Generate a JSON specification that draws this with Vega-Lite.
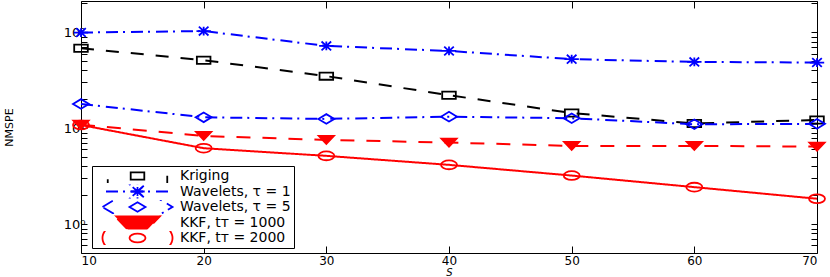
{
  "$schema": "https://vega.github.io/schema/vega-lite/v6.json",
  "width": 736,
  "height": 252,
  "autosize": "none",
  "padding": {"left": 81, "top": 1, "right": 13, "bottom": 24},
  "background": "white",
  "config": {
    "view": {"stroke": "black", "strokeWidth": 1},
    "font": "DejaVu Sans",
    "axis": {"domain": false, "grid": false, "tickColor": "black", "tickWidth": 1, "labelColor": "black", "labelFont": "DejaVu Sans", "labelFontSize": 12, "titleColor": "black", "titleFont": "DejaVu Sans", "titleFontWeight": "normal"}
  },
  "data": {"values": [
    {"s": 10, "series": "Kriging", "v": 68.2},
    {"s": 20, "series": "Kriging", "v": 51.2},
    {"s": 30, "series": "Kriging", "v": 34.9},
    {"s": 40, "series": "Kriging", "v": 22.1},
    {"s": 50, "series": "Kriging", "v": 14.4},
    {"s": 60, "series": "Kriging", "v": 11.2},
    {"s": 70, "series": "Kriging", "v": 12.2},
    {"s": 10, "series": "Wavelets, τ = 1", "v": 99.4},
    {"s": 20, "series": "Wavelets, τ = 1", "v": 103},
    {"s": 30, "series": "Wavelets, τ = 1", "v": 72.1},
    {"s": 40, "series": "Wavelets, τ = 1", "v": 63.9},
    {"s": 50, "series": "Wavelets, τ = 1", "v": 52.5},
    {"s": 60, "series": "Wavelets, τ = 1", "v": 49.1},
    {"s": 70, "series": "Wavelets, τ = 1", "v": 48.4},
    {"s": 10, "series": "Wavelets, τ = 5", "v": 17.9},
    {"s": 20, "series": "Wavelets, τ = 5", "v": 13.0},
    {"s": 30, "series": "Wavelets, τ = 5", "v": 12.5},
    {"s": 40, "series": "Wavelets, τ = 5", "v": 13.2},
    {"s": 50, "series": "Wavelets, τ = 5", "v": 12.7},
    {"s": 60, "series": "Wavelets, τ = 5", "v": 11.0},
    {"s": 70, "series": "Wavelets, τ = 5", "v": 11.1},
    {"s": 10, "series": "KKF, tᴛ = 1000", "v": 10.9},
    {"s": 20, "series": "KKF, tᴛ = 1000", "v": 8.3},
    {"s": 30, "series": "KKF, tᴛ = 1000", "v": 7.55},
    {"s": 40, "series": "KKF, tᴛ = 1000", "v": 7.08},
    {"s": 50, "series": "KKF, tᴛ = 1000", "v": 6.54},
    {"s": 60, "series": "KKF, tᴛ = 1000", "v": 6.54},
    {"s": 70, "series": "KKF, tᴛ = 1000", "v": 6.43},
    {"s": 10, "series": "KKF, tᴛ = 2000", "v": 10.8},
    {"s": 20, "series": "KKF, tᴛ = 2000", "v": 6.19},
    {"s": 30, "series": "KKF, tᴛ = 2000", "v": 5.15},
    {"s": 40, "series": "KKF, tᴛ = 2000", "v": 4.15},
    {"s": 50, "series": "KKF, tᴛ = 2000", "v": 3.21},
    {"s": 60, "series": "KKF, tᴛ = 2000", "v": 2.43},
    {"s": 70, "series": "KKF, tᴛ = 2000", "v": 1.84}
  ]},
  "layer": [
    {
      "mark": {"type": "line", "strokeWidth": 2, "clip": false},
      "encoding": {
        "x": {"field": "s", "type": "quantitative", "scale": {"domain": [10, 70], "nice": false, "zero": false},
              "axis": {"orient": "bottom", "values": [10, 20, 30, 40, 50, 60, 70], "tickSize": -7, "labelPadding": 9, "title": "S", "titleFontStyle": "italic", "titleFontSize": 10, "titleY": 22, "titleBaseline": "alphabetic"}},
        "y": {"field": "v", "type": "quantitative", "scale": {"type": "log", "domain": [0.5, 212], "nice": false},
              "axis": {"orient": "left", "values": [0.6, 0.7, 0.8, 0.9, 1, 2, 3, 4, 5, 6, 7, 8, 9, 10, 20, 30, 40, 50, 60, 70, 80, 90, 100, 200],
                       "tickSize": -6, "labelPadding": 2, "labelFontSize": 13,
                       "labelExpr": "datum.value == 1 ? '10⁰' : datum.value == 10 ? '10¹' : datum.value == 100 ? '10²' : ''",
                       "title": "NMSPE", "titleFontSize": 11, "titleX": -72, "titleY": 126, "titleBaseline": "middle", "titleAngle": -90}},
        "stroke": {"field": "series", "type": "nominal",
                   "scale": {"domain": ["Kriging", "Wavelets, τ = 1", "Wavelets, τ = 5", "KKF, tᴛ = 1000", "KKF, tᴛ = 2000"],
                             "range": ["#000000", "#0000ff", "#0000ff", "#ff0000", "#ff0000"]},
                   "legend": {
                     "orient": "none", "legendX": 11, "legendY": 165, "title": null,
                     "strokeColor": "black", "fillColor": "white", "padding": 3, "rowPadding": 1.5, "clipHeight": 14,
                     "symbolType": "stroke", "symbolSize": 4900, "symbolStrokeWidth": 1.8, "symbolOffset": 6.5, "labelOffset": 6.5,
                     "labelFontSize": 14, "labelFont": "DejaVu Sans", "labelColor": "black", "cornerRadius": 0,
                     "encode": {"symbols": {"update": {
                       "shape": {"value": "stroke"},
                       "fill": {"value": "transparent"},
                       "strokeDash": {"signal": "datum.value === 'Kriging' || datum.value === 'KKF, tᴛ = 1000' ? [15, 40] : datum.value === 'KKF, tᴛ = 2000' ? [1, 0] : [2, 6, 17, 16, 17, 6, 2, 10]"}
                     }}}
                   }},
        "strokeDash": {"field": "series", "type": "nominal",
                       "scale": {"domain": ["Kriging", "Wavelets, τ = 1", "Wavelets, τ = 5", "KKF, tᴛ = 1000", "KKF, tᴛ = 2000"],
                                 "range": [[13, 12], [12, 5, 2, 6], [12, 5, 2, 6], [14, 12], [1, 0]]},
                       "legend": null}
      }
    },
    {
      "mark": {"type": "point", "size": 256, "strokeWidth": 1.8, "opacity": 1, "filled": false, "clip": false},
      "encoding": {
        "x": {"field": "s", "type": "quantitative", "scale": {"domain": [10, 70], "nice": false, "zero": false},
              "axis": {"orient": "top", "values": [10, 20, 30, 40, 50, 60, 70], "tickSize": -7, "labels": false, "title": null}},
        "y": {"field": "v", "type": "quantitative", "scale": {"type": "log", "domain": [0.5, 212], "nice": false},
              "axis": {"orient": "right", "values": [0.6, 0.7, 0.8, 0.9, 1, 2, 3, 4, 5, 6, 7, 8, 9, 10, 20, 30, 40, 50, 60, 70, 80, 90, 100, 200],
                       "tickSize": -6, "labels": false, "title": null}},
        "color": {"field": "series", "type": "nominal",
                  "scale": {"domain": ["Kriging", "Wavelets, τ = 1", "Wavelets, τ = 5", "KKF, tᴛ = 1000", "KKF, tᴛ = 2000"],
                            "range": ["#000000", "#0000ff", "#0000ff", "#ff0000", "#ff0000"]},
                  "legend": {"orient": "bottom-left", "offset": 5, "title": null, "padding": 3, "rowPadding": 1.5, "clipHeight": 14,
                             "symbolSize": 256, "symbolStrokeWidth": 1.8, "symbolOffset": 39.5, "labelOffset": 6.5,
                             "labelFontSize": 14, "labelFont": "DejaVu Sans", "labelExpr": "''",
                             "encode": {"symbols": {"update": {
                               "shape": {"signal": "datum.value === 'Kriging' ? 'M-0.85,-0.45H0.85V0.45H-0.85Z' : datum.value === 'Wavelets, τ = 1' ? 'M-0.9,0H0.9M-0.6,-0.55L0.6,0.55M-0.6,0.55L0.6,-0.55M0,-0.55V0.55' : datum.value === 'Wavelets, τ = 5' ? 'M-1,0L0,-0.6L1,0L0,0.6Z' : datum.value === 'KKF, tᴛ = 1000' ? 'M-0.95,-0.5H0.95L0,0.5Z' : 'M-1,0A1,0.55 0 1,0 1,0A1,0.55 0 1,0 -1,0Z'"},
                               "fill": {"signal": "datum.value === 'KKF, tᴛ = 1000' ? '#ff0000' : datum.value === 'Wavelets, τ = 1' ? '#0000ff' : 'transparent'"}
                             }}}}},
        "fill": {"field": "series", "type": "nominal",
                 "scale": {"domain": ["Kriging", "Wavelets, τ = 1", "Wavelets, τ = 5", "KKF, tᴛ = 1000", "KKF, tᴛ = 2000"],
                           "range": ["transparent", "#0000ff", "transparent", "#ff0000", "transparent"]},
                 "legend": null},
        "shape": {"field": "series", "type": "nominal",
                  "scale": {"domain": ["Kriging", "Wavelets, τ = 1", "Wavelets, τ = 5", "KKF, tᴛ = 1000", "KKF, tᴛ = 2000"],
                            "range": ["M-0.85,-0.45H0.85V0.45H-0.85Z",
                                      "M-0.9,0H0.9M-0.6,-0.55L0.6,0.55M-0.6,0.55L0.6,-0.55M0,-0.55V0.55",
                                      "M-1,0L0,-0.6L1,0L0,0.6Z",
                                      "M-0.95,-0.5H0.95L0,0.5Z",
                                      "M-1,0A1,0.55 0 1,0 1,0A1,0.55 0 1,0 -1,0Z"]},
                  "legend": null}
      }
    }
  ],
  "resolve": {"axis": {"x": "independent", "y": "independent"}}
}
